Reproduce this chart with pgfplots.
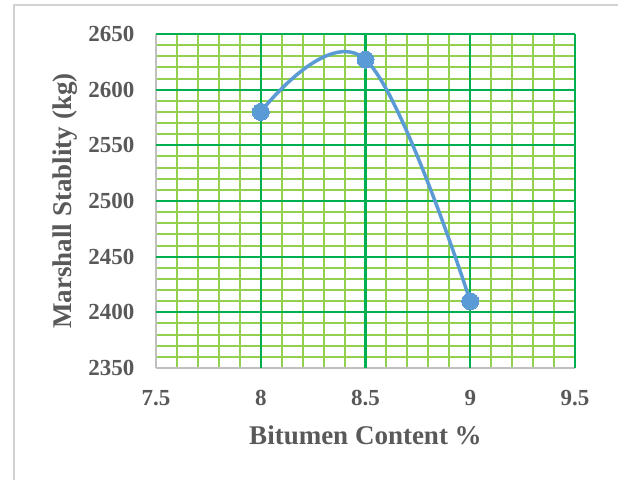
\documentclass[border=0pt]{standalone}
\usepackage{fontspec}
\setmainfont{Liberation Serif}
\usepackage{pgfplots}
\pgfplotsset{compat=1.18}
\definecolor{majg}{RGB}{0,176,80}
\definecolor{ming}{RGB}{146,208,80}
\definecolor{lblue}{RGB}{91,155,213}
\definecolor{txtg}{RGB}{89,89,89}
\definecolor{axg}{RGB}{191,191,191}
\begin{document}
\begin{tikzpicture}[x=1pt,y=1pt]
\useasboundingbox (0,0) rectangle (618,479);
\draw[color=axg!70, line width=1.5pt] (14,-10) -- (14,474) -- (640,474);
\begin{axis}[
  at={(156pt,111pt)}, anchor=south west,
  width=419pt, height=334pt, scale only axis,
  xmin=7.5, xmax=9.5, ymin=2350, ymax=2650,
  xtick={7.5,8,8.5,9,9.5}, ytick={2350,2400,...,2650},
  minor x tick num=4, minor y tick num=4,
  grid=minor,
  minor grid style={color=ming, line width=2pt},
  extra x ticks={8,8.5,9,9.5}, extra y ticks={2400,2450,...,2650},
  extra x tick labels={}, extra y tick labels={},
  extra tick style={grid=major, major grid style={color=majg, line width=2.1pt}},
  axis x line*=bottom, axis y line*=left,
  axis line style={color=axg, line width=2pt, -},
  major tick length=0pt, minor tick length=0pt,
  /pgf/number format/assume math mode=true,
  /pgf/number format/.cd, fixed, 1000 sep={}, /pgfplots/.cd,
  ticklabel style={font=\fontsize{23}{25}\selectfont\bfseries, color=txtg},
  xticklabel style={yshift=-19pt},
  yticklabel style={xshift=-18pt},
  xlabel={Bitumen Content \%},
  ylabel={Marshall Stablity (kg)},
  label style={font=\fontsize{27}{29}\selectfont\bfseries, color=txtg},
  xlabel style={yshift=-13pt},
  ylabel style={yshift=4pt},
  clip=false,
]
\addplot[color=lblue, line width=3.5pt, smooth, tension=0.65, mark=*, mark size=8.5pt, mark options={fill=lblue, draw=lblue, line width=0pt}]
coordinates {(8,2580) (8.5,2627) (9,2410)};
\end{axis}
\end{tikzpicture}
\end{document}
